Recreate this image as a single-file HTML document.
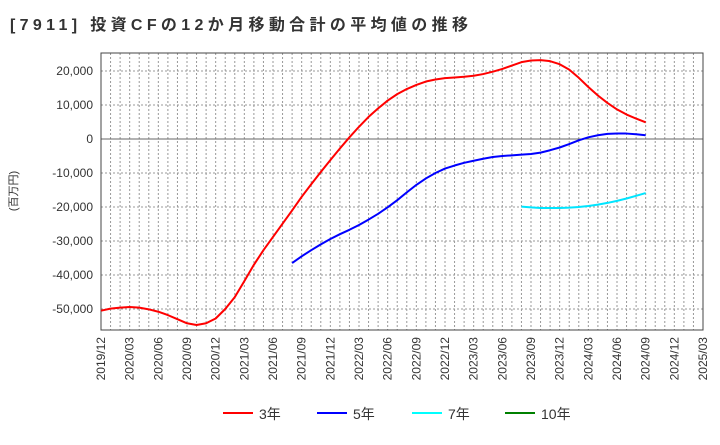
<!DOCTYPE html>
<html><head><meta charset="utf-8"><style>
body{margin:0;background:#fff;font-family:"Liberation Sans","Noto Sans CJK JP",sans-serif}
svg text{font-family:"Liberation Sans","Noto Sans CJK JP",sans-serif}
</style></head><body>
<svg id="c" width="720" height="440" xmlns="http://www.w3.org/2000/svg">
<text x="10" y="30" font-size="16" font-weight="bold" fill="#333" textLength="458" lengthAdjust="spacing">[7911]  投資CFの12か月移動合計の平均値の推移</text>
<text transform="translate(17,191) rotate(-90)" text-anchor="middle" font-size="11" fill="#333">(百万円)</text>
</svg>
<script>
const xLabels=["2019/12","2020/03","2020/06","2020/09","2020/12","2021/03","2021/06","2021/09","2021/12","2022/03","2022/06","2022/09","2022/12","2023/03","2023/06","2023/09","2023/12","2024/03","2024/06","2024/09","2024/12","2025/03"];
const yTicks=[-50000,-40000,-30000,-20000,-10000,0,10000,20000];
const yTickLabels=["-50,000","-40,000","-30,000","-20,000","-10,000","0","10,000","20,000"];
const s3Start=0;
const s3=[-50500,-49900,-49600,-49400,-49600,-50100,-50800,-51800,-53000,-54200,-54700,-54200,-52800,-50000,-46500,-41800,-37000,-32700,-28800,-24900,-21000,-17000,-13300,-9700,-6200,-2800,500,3600,6500,9000,11300,13200,14700,15900,16900,17500,17900,18100,18300,18600,19100,19800,20600,21600,22600,23100,23200,22900,22000,20400,18000,15300,12800,10600,8700,7200,6000,4900];
const s5Start=20;
const s5=[-36500,-34500,-32700,-31000,-29400,-28000,-26700,-25300,-23700,-22000,-20100,-18000,-15700,-13500,-11600,-10000,-8700,-7800,-7000,-6400,-5800,-5300,-5000,-4800,-4600,-4400,-4000,-3300,-2500,-1500,-400,500,1100,1500,1600,1600,1400,1100];
const s7Start=44;
const s7=[-19900,-20100,-20300,-20300,-20300,-20200,-20000,-19700,-19300,-18800,-18200,-17500,-16700,-15900];
const s10Start=0;
const s10=[];

const svg=document.getElementById('c');const NS="http://www.w3.org/2000/svg";
const L=101,R=703,T=53,B=330;
const months=(xLabels.length-1)*3;
const xs=m=>L+(R-L)*m/months;
const ys=v=>139-v*34/10000;
function mk(t,a,p){const e=document.createElementNS(NS,t);for(const k in a)e.setAttribute(k,a[k]);(p||svg).appendChild(e);return e;}
for(let m=0;m<=months;m++){const g=mk('line',{x1:xs(m),x2:xs(m),y1:T,y2:B,stroke:'#999','stroke-dasharray':'2,2','stroke-width':1});

}
yTicks.forEach((v,i)=>{const g=mk('line',{x1:L,x2:R,y1:ys(v),y2:ys(v),stroke:v===0?'#666':'#999','stroke-dasharray':v===0?'':'2,2','stroke-width':1});


const t=mk('text',{x:93,y:ys(v)+4,'text-anchor':'end','font-size':12,fill:'#333'});t.textContent=yTickLabels[i];

});
const fr=mk('rect',{x:L,y:T,width:R-L,height:B-T,fill:'none',stroke:'#444'});


xLabels.forEach((l,i)=>{const x=xs(i*3);const t=mk('text',{transform:`translate(${x+4},337) rotate(-90)`,'text-anchor':'end','font-size':12,fill:'#333'});t.textContent=l;

});
function line(arr,st,col,name){if(!arr.length)return;const p=mk('polyline',{points:arr.map((v,i)=>xs(st+i)+','+ys(v)).join(' '),fill:'none',stroke:col,'stroke-width':2,'stroke-linejoin':'round'});

}
line(s3,s3Start,'#ff0000','series-3y');line(s5,s5Start,'#0000ff','series-5y');line(s7,s7Start,'#00e5ff','series-7y');line(s10,s10Start,'#008000','series-10y');
[['3年','#ff0000',223],['5年','#0000ff',317],['7年','#00ffff',412],['10年','#008000',505]].forEach(e=>{
const g=mk('g',{});


mk('line',{x1:e[2],x2:e[2]+30,y1:413,y2:413,stroke:e[1],'stroke-width':2},g);
const t=mk('text',{x:e[2]+36,y:419,'font-size':14,fill:'#333'},g);t.textContent=e[0];});
</script>
</body></html>
